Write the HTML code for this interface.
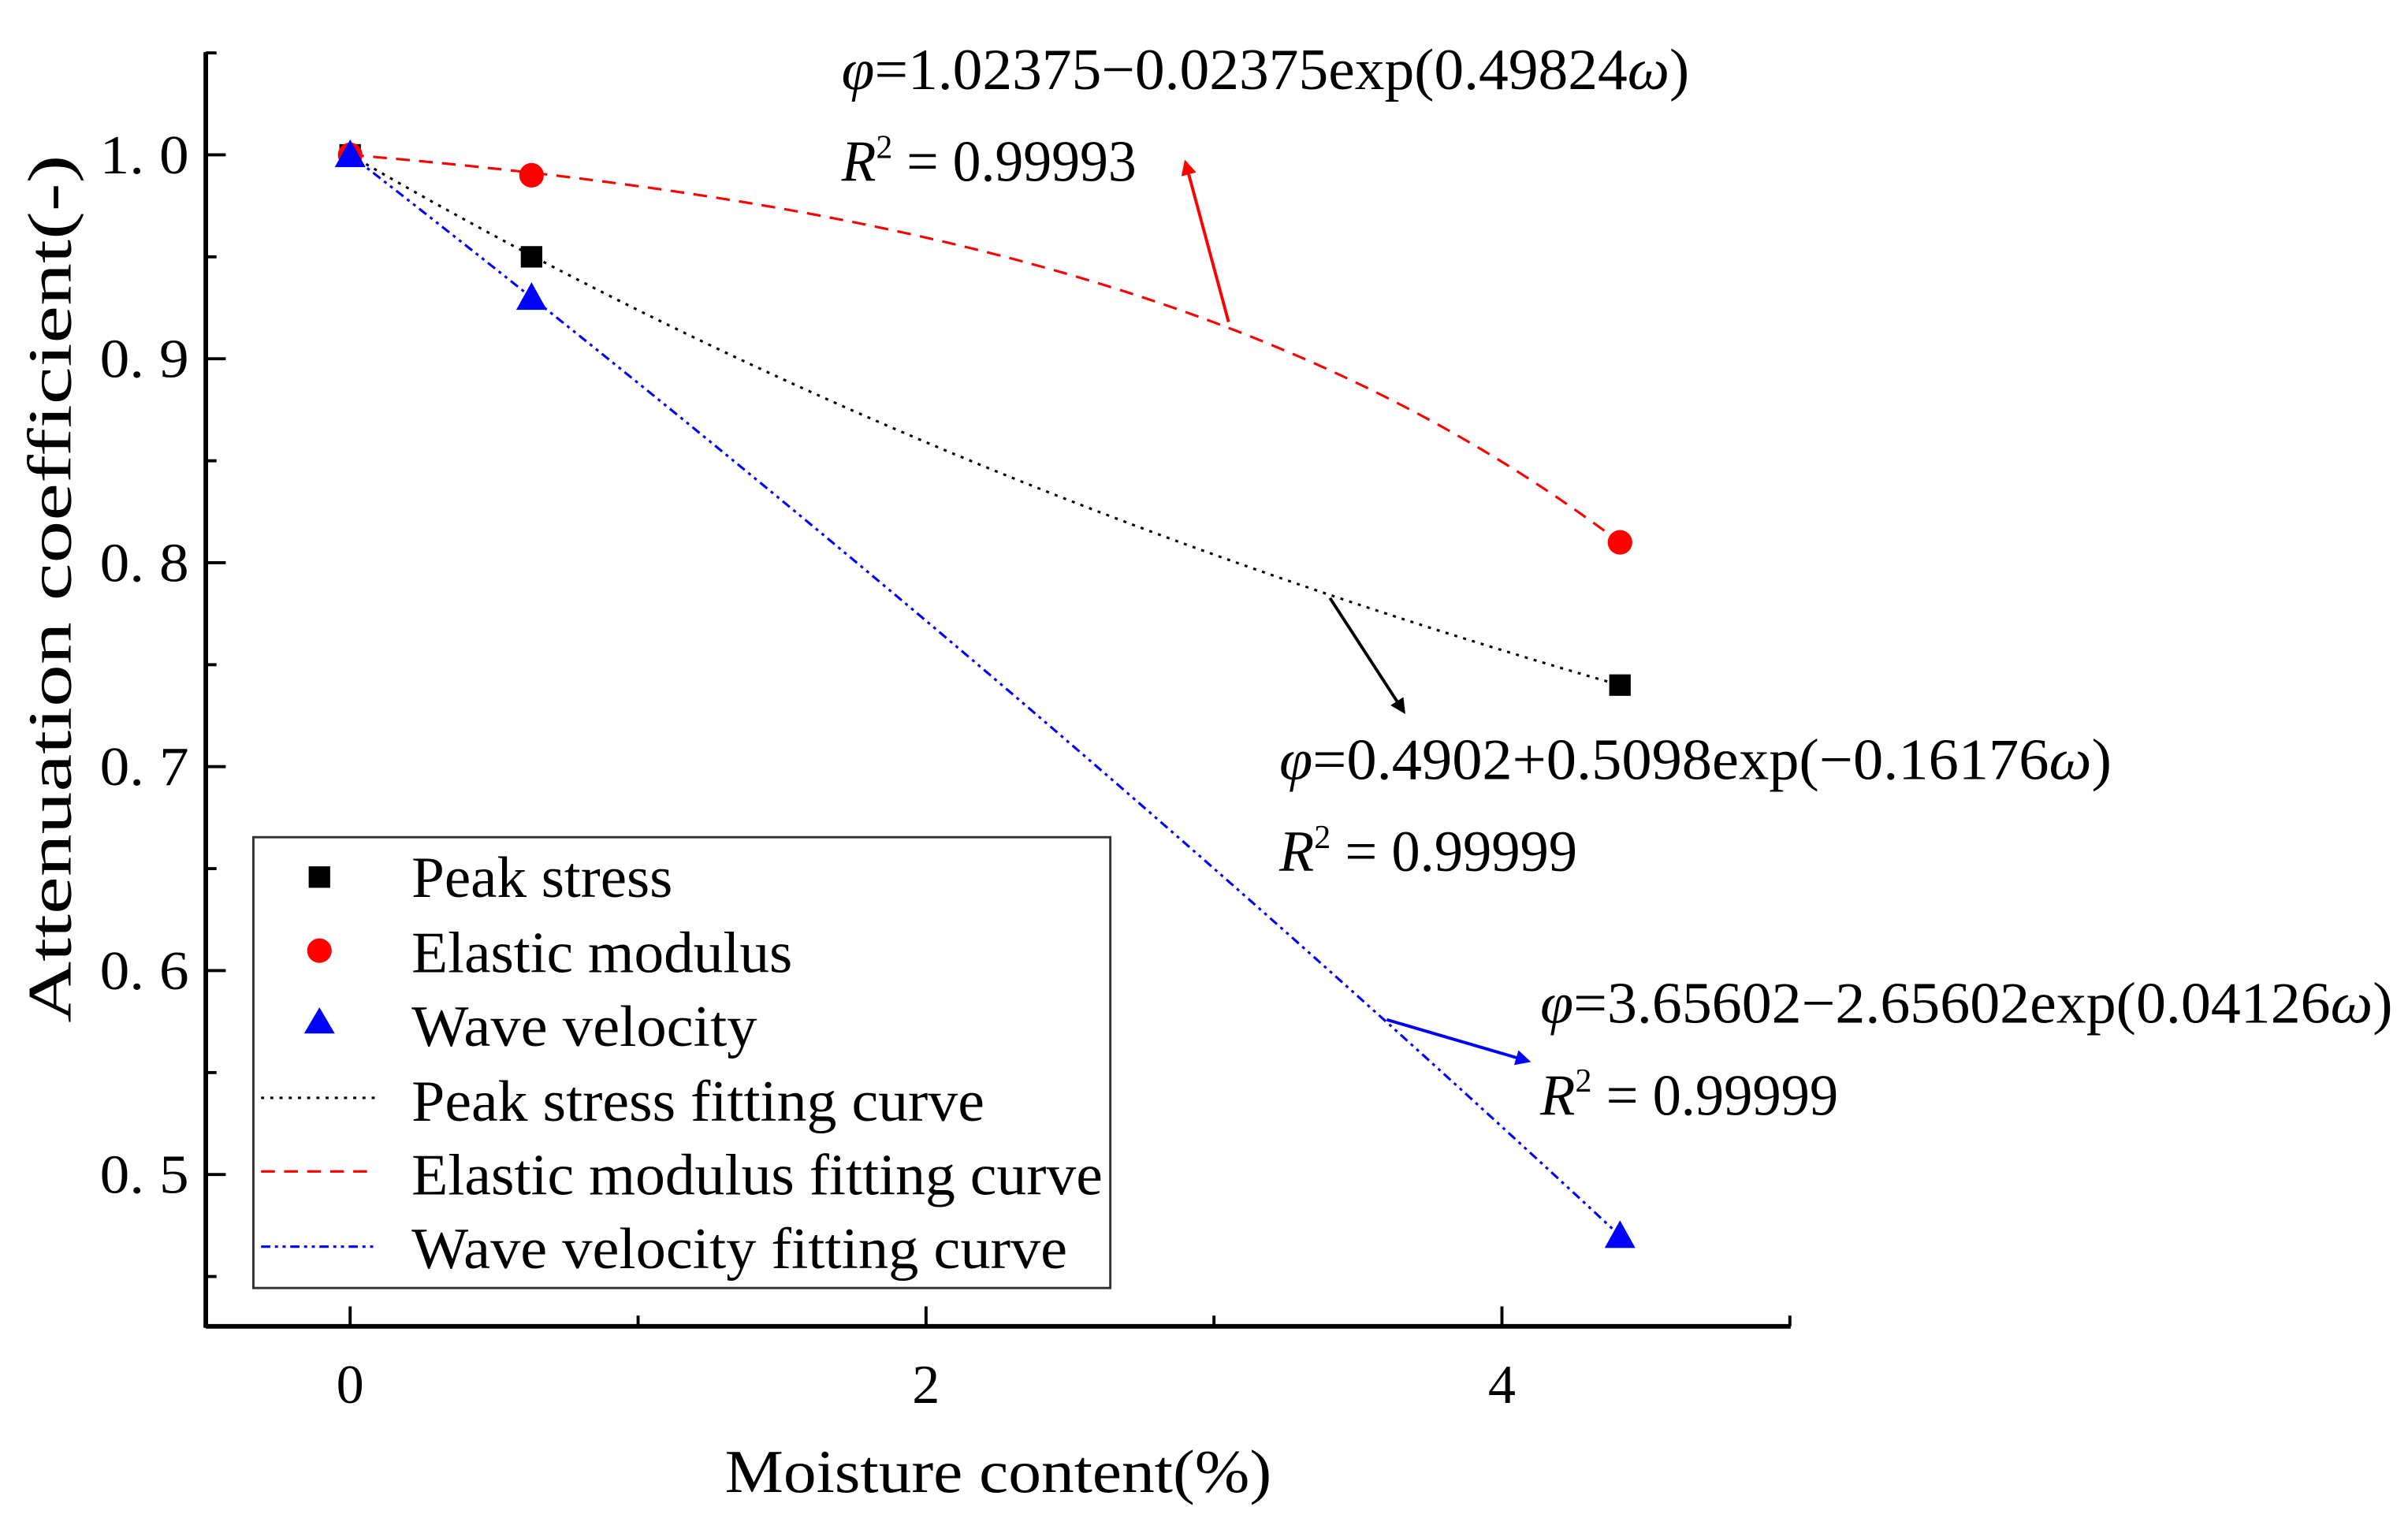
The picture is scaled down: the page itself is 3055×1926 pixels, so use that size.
<!DOCTYPE html>
<html><head><meta charset="utf-8"><style>
html,body{margin:0;padding:0;background:#fff;}
svg{display:block;}
text{font-family:"Liberation Serif",serif;fill:#000;}
</style></head><body>
<svg id="chart" width="3055" height="1926" viewBox="0 0 1568 990" preserveAspectRatio="none" xmlns="http://www.w3.org/2000/svg">
<defs>
<marker id="arR" markerWidth="10" markerHeight="10" refX="8" refY="5" orient="auto" markerUnits="userSpaceOnUse"><path d="M0,0 L10,5 L0,10 z" fill="#f00"/></marker>
<marker id="arK" markerWidth="10" markerHeight="10" refX="8" refY="5" orient="auto" markerUnits="userSpaceOnUse"><path d="M0,0 L10,5 L0,10 z" fill="#000"/></marker>
<marker id="arB" markerWidth="10" markerHeight="10" refX="8" refY="5" orient="auto" markerUnits="userSpaceOnUse"><path d="M0,0 L10,5 L0,10 z" fill="#00f"/></marker>
</defs>
<g id="plot"></g>
<g id="axes"></g>
<text transform="translate(46,384) rotate(-90)" text-anchor="middle" font-size="40" textLength="566" lengthAdjust="spacingAndGlyphs">Attenuation coefficient(-)</text>
<text x="472" y="973" font-size="40" textLength="356" lengthAdjust="spacingAndGlyphs">Moisture content(%)</text>

<g font-size="38">
<text x="548" y="58" textLength="552" lengthAdjust="spacingAndGlyphs"><tspan font-style="italic">φ</tspan>=1.02375−0.02375exp(0.49824<tspan font-style="italic">ω</tspan>)</text>
<text x="548" y="118" textLength="192" lengthAdjust="spacingAndGlyphs"><tspan font-style="italic">R</tspan><tspan font-size="22" dy="-15">2</tspan><tspan dy="15"> = 0.99993</tspan></text>
</g>
<g font-size="38">
<text x="833" y="508" textLength="542" lengthAdjust="spacingAndGlyphs"><tspan font-style="italic">φ</tspan>=0.4902+0.5098exp(−0.16176<tspan font-style="italic">ω</tspan>)</text>
<text x="833" y="568" textLength="194" lengthAdjust="spacingAndGlyphs"><tspan font-style="italic">R</tspan><tspan font-size="22" dy="-15">2</tspan><tspan dy="15"> = 0.99999</tspan></text>
</g>
<g font-size="38">
<text x="1003" y="667" textLength="555" lengthAdjust="spacingAndGlyphs"><tspan font-style="italic">φ</tspan>=3.65602−2.65602exp(0.04126<tspan font-style="italic">ω</tspan>)</text>
<text x="1003" y="727" textLength="194" lengthAdjust="spacingAndGlyphs"><tspan font-style="italic">R</tspan><tspan font-size="22" dy="-15">2</tspan><tspan dy="15"> = 0.99999</tspan></text>
</g>
<line x1="800" y1="210" x2="772" y2="106" stroke="#f00" stroke-width="2" marker-end="url(#arR)"/>
<line x1="866" y1="390" x2="914" y2="464" stroke="#000" stroke-width="2" marker-end="url(#arK)"/>
<line x1="903" y1="665" x2="995" y2="692" stroke="#00f" stroke-width="2" marker-end="url(#arB)"/>

<g>
<rect x="165" y="546" width="558" height="294" fill="#fff" stroke="#333" stroke-width="1.5"/>
<rect x="201" y="565" width="14" height="14" fill="#000"/>
<text x="268" y="585" font-size="38" textLength="170" lengthAdjust="spacingAndGlyphs">Peak stress</text>
<circle cx="208" cy="620" r="8" fill="#f00"/>
<text x="268" y="634" font-size="38" textLength="248" lengthAdjust="spacingAndGlyphs">Elastic modulus</text>
<path d="M208,657 L218,674 L198,674 z" fill="#00f"/>
<text x="268" y="682" font-size="38" textLength="225" lengthAdjust="spacingAndGlyphs">Wave velocity</text>
<line x1="170" y1="716" x2="245" y2="716" stroke="#000" stroke-width="1.6" stroke-dasharray="2,4"/>
<text x="268" y="731" font-size="38" textLength="373" lengthAdjust="spacingAndGlyphs">Peak stress fitting curve</text>
<line x1="170" y1="764" x2="245" y2="764" stroke="#f00" stroke-width="1.6" stroke-dasharray="9,6"/>
<text x="268" y="779" font-size="38" textLength="450" lengthAdjust="spacingAndGlyphs">Elastic modulus fitting curve</text>
<line x1="170" y1="813" x2="245" y2="813" stroke="#00f" stroke-width="1.6" stroke-dasharray="6,3,2,3,2,3"/>
<text x="268" y="827" font-size="38" textLength="427" lengthAdjust="spacingAndGlyphs">Wave velocity fitting curve</text>
</g>
</svg>
<script>
const moisture = [0, 0.63, 4.41];
const peakStress = [1.0, 0.95, 0.74];
const elasticModulus = [1.0, 0.99, 0.81];
const waveVelocity = [1.0, 0.93, 0.47];
const peakFit = [0.4902, 0.5098, -0.16176];
const elasticFit = [1.02375, -0.02375, 0.49824];
const waveFit = [3.65602, -2.65602, 0.04126];
const xTicks = [0, 2, 4];
const xMinorTicks = [1, 3, 5];
const yTicks = [0.5, 0.6, 0.7, 0.8, 0.9, 1.0];
const yTickLabels = ["0. 5", "0. 6", "0. 7", "0. 8", "0. 9", "1. 0"];
const yMinorTicks = [0.45, 0.55, 0.65, 0.75, 0.85, 0.95, 1.05];

const NS = "http://www.w3.org/2000/svg";
const X = v => 228 + (v - 0) * 187.5;
const Y = v => 101 - (v - 1.0) * 1330;
const plot = document.getElementById('plot');
const axes = document.getElementById('axes');
function mk(tag, attrs, parent) {
  const e = document.createElementNS(NS, tag);
  for (const k in attrs) e.setAttribute(k, attrs[k]);
  parent.appendChild(e);
  return e;
}
let a = mk('line', {x1:134, y1:865, x2:1166, y2:865, stroke:'#000', 'stroke-width':3}, axes);


a = mk('line', {x1:134, y1:34, x2:134, y2:866, stroke:'#000', 'stroke-width':3}, axes);


xTicks.forEach(v => {
  const t = mk('line', {x1:X(v), y1:865, x2:X(v), y2:852, stroke:'#000', 'stroke-width':2}, axes);
  
  
  const l = mk('text', {x:X(v), y:915, 'text-anchor':'middle', 'font-size':36}, axes);
  l.textContent = v;
  
  
});
xMinorTicks.forEach(v => {
  const t = mk('line', {x1:X(v), y1:865, x2:X(v), y2:858, stroke:'#000', 'stroke-width':2}, axes);
  
  
});
yTicks.forEach((v, i) => {
  const t = mk('line', {x1:134, y1:Y(v), x2:147, y2:Y(v), stroke:'#000', 'stroke-width':2}, axes);
  
  
  const l = mk('text', {x:65, y:Y(v)+12, 'font-size':36, textLength:58, lengthAdjust:'spacingAndGlyphs'}, axes);
  l.textContent = yTickLabels[i];
  
  
});
yMinorTicks.forEach(v => {
  const t = mk('line', {x1:134, y1:Y(v), x2:141, y2:Y(v), stroke:'#000', 'stroke-width':2}, axes);
  
  
});
function curve(c, color, dash, name) {
  const pts = [];
  const xmax = moisture[moisture.length - 1];
  for (let i = 0; i <= 100; i++) {
    const w = xmax * i / 100;
    const v = c[0] + c[1] * Math.exp(c[2] * w);
    pts.push(X(w).toFixed(2) + ',' + Y(v).toFixed(2));
  }
  const p = mk('polyline', {points: pts.join(' '), fill:'none', stroke:color, 'stroke-width':1.6, 'stroke-dasharray':dash}, plot);
  
  
}
curve(elasticFit, '#f00', '9,6', 'elastic-fit-curve');
curve(peakFit, '#000', '2,4', 'peak-fit-curve');
curve(waveFit, '#00f', '6,3,2,3,2,3', 'wave-fit-curve');
moisture.forEach((w, i) => {
  const s = mk('rect', {x:X(w)-7, y:Y(peakStress[i])-7, width:14, height:14, fill:'#000'}, plot);
  
  
});
moisture.forEach((w, i) => {
  const c = mk('circle', {cx:X(w), cy:Y(elasticModulus[i]), r:8, fill:'#f00'}, plot);
  
  
});
moisture.forEach((w, i) => {
  const x = X(w), y = Y(waveVelocity[i]);
  const t = mk('path', {d:`M${x},${y-10} L${x+10},${y+8} L${x-10},${y+8} z`, fill:'#00f'}, plot);
  
  
});
</script>
</body></html>
